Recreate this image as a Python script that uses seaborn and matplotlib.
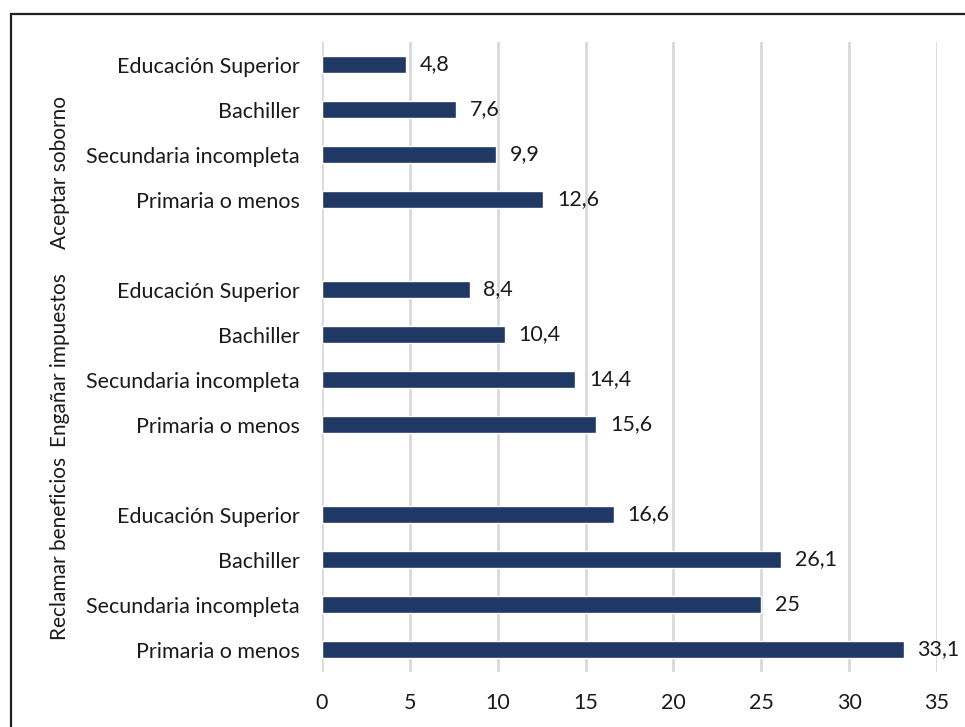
import matplotlib
matplotlib.use("Agg")
import matplotlib.pyplot as plt
import matplotlib.transforms as mtransforms
from matplotlib.patches import Rectangle
import seaborn as sns
import pandas as pd

# Behaviours and education levels (top to bottom within each group)
grupos = ["Aceptar soborno", "Engañar impuestos", "Reclamar beneficios"]
niveles = ["Educación Superior", "Bachiller", "Secundaria incompleta", "Primaria o menos"]
aceptar_soborno = [4.8, 7.6, 9.9, 12.6]
enganar_impuestos = [8.4, 10.4, 14.4, 15.6]
reclamar_beneficios = [16.6, 26.1, 25.0, 33.1]
xticks = [0, 5, 10, 15, 20, 25, 30, 35]

series = [aceptar_soborno, enganar_impuestos, reclamar_beneficios]
rows = []
for g, (grupo, valores) in enumerate(zip(grupos, series)):
    for i, (nivel, v) in enumerate(zip(niveles, valores)):
        rows.append({"grupo": grupo, "nivel": nivel, "valor": v,
                     "pos": g * (len(niveles) + 1) + i})
df = pd.DataFrame(rows)

sns.set_theme(style="white")
plt.rcParams["font.family"] = ["Lato", "DejaVu Sans"]

color_barra = "#203864"
texto = "#1a1a1a"
fs = 15.5

fig = plt.figure(figsize=(9.65, 7.27), dpi=100)
ax = fig.add_axes([322 / 965, 1 - 672 / 727, (937 - 322) / 965, (672 - 42) / 727])

sns.barplot(data=df, x="valor", y="pos", orient="h", native_scale=True,
            color=color_barra, width=0.36, saturation=1, ax=ax)

ax.set_xlim(0, 35)
ax.set_ylim(df["pos"].max() + 0.5, -0.5)
ax.set_xticks(xticks)
ax.set_xticklabels([str(t) for t in xticks], fontsize=fs, color=texto)
ax.set_yticks(df["pos"])
ax.set_yticklabels(df["nivel"], fontsize=fs, color=texto)
ax.tick_params(axis="both", length=0)
ax.tick_params(axis="y", pad=16)
ax.tick_params(axis="x", pad=15)
ax.set_xlabel("")
ax.set_ylabel("")
for s in ax.spines.values():
    s.set_visible(False)

ax.grid(axis="x", color="#d9d9d9", linewidth=2)
ax.set_axisbelow(True)

# Value labels with decimal comma
etiquetas = [f"{v:g}".replace(".", ",") for v in df["valor"]]
ax.bar_label(ax.containers[0], labels=etiquetas, padding=10, fontsize=fs, color=texto)

# Group labels on the left, rotated
trans = mtransforms.blended_transform_factory(fig.transFigure, ax.transData)
centros = [2.4, 6.56, 10.76]
for grupo, c in zip(grupos, centros):
    ax.text(60 / 965, c, grupo, rotation=90, ha="center", va="center",
            fontsize=fs - 0.5, color=texto, transform=trans)

# Frame around the chart area
fig.patches.append(Rectangle((11 / 965, -0.05), 1.2, 1 - 14 / 727 + 0.05,
                             transform=fig.transFigure, fill=False,
                             edgecolor="#222222", linewidth=1.6))

fig.savefig("out.png", dpi=100)
